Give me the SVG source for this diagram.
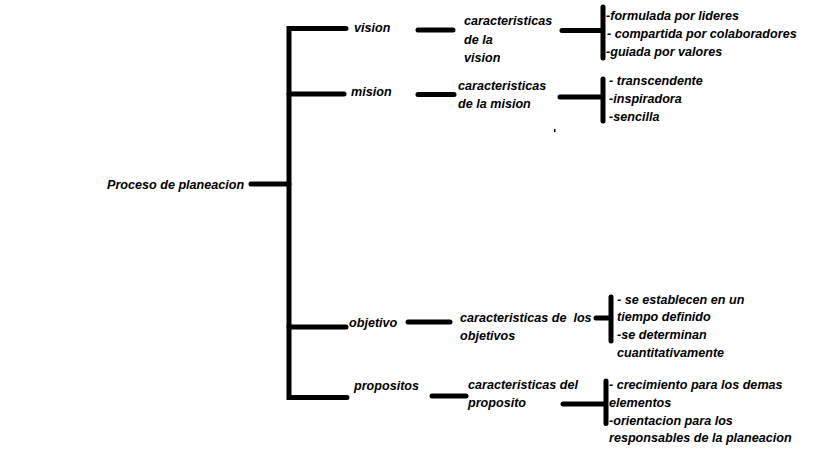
<svg xmlns="http://www.w3.org/2000/svg" width="819" height="460" viewBox="0 0 819 460">
<style>
text{font-family:"Liberation Sans",Arial,sans-serif;font-weight:bold;font-style:italic;font-size:12.6px;fill:#000}
.c{fill:none;stroke:#000;stroke-width:5;stroke-linecap:round;stroke-linejoin:miter}
</style>
<rect width="819" height="460" fill="#fff"/>
<g id="connectors">
<path class="c" d="M346,28.5 H289 V397.5 H347"/>
<path class="c" d="M251,184 H289"/>
<path class="c" d="M289,94 H344"/>
<path class="c" d="M289,327 H346"/>
<path class="c" d="M418,30 H453"/>
<path class="c" d="M562,30.5 H602"/>
<path class="c" d="M603,7 V58"/>
<path class="c" d="M418,94.5 H454"/>
<path class="c" d="M560,97 H601"/>
<path class="c" d="M603,79 V121"/>
<path class="c" d="M408,322 H450"/>
<path class="c" d="M596,318 H609"/>
<path class="c" d="M611,297 V341"/>
<path class="c" d="M432,396 H466"/>
<path class="c" d="M563,404 H604"/>
<path class="c" d="M606,381 V423.5"/>
<rect x="554" y="129" width="1.5" height="3" fill="#000"/>
</g>
<g id="root"><text x="107" y="189">Proceso de planeacion</text></g>
<g id="vision"><text x="354" y="32">vision</text></g>
<g id="vision-car"><text x="464" y="25">caracteristicas</text><text x="464" y="43.5">de la</text><text x="464" y="61.5">vision</text></g>
<g id="vision-items"><text x="606" y="19.5">-formulada por lideres</text><text x="607" y="38">- compartida por colaboradores</text><text x="606" y="56">-guiada por valores</text></g>
<g id="mision"><text x="351" y="95.5">mision</text></g>
<g id="mision-car"><text x="458" y="90">caracteristicas</text><text x="458" y="108">de la mision</text></g>
<g id="mision-items"><text x="609" y="84.5">- transcendente</text><text x="609" y="102.5">-inspiradora</text><text x="609" y="121">-sencilla</text></g>
<g id="objetivo"><text x="349" y="327">objetivo</text></g>
<g id="objetivo-car"><text x="460" y="322" xml:space="preserve">caracteristicas de  los</text><text x="460" y="339.5">objetivos</text></g>
<g id="objetivo-items"><text x="617" y="303.5">- se establecen en un</text><text x="617" y="321">tiempo definido</text><text x="617" y="338.5">-se determinan</text><text x="617" y="357">cuantitativamente</text></g>
<g id="propositos"><text x="354" y="390">propositos</text></g>
<g id="propositos-car"><text x="468" y="388.5">caracteristicas del</text><text x="468" y="406.5">proposito</text></g>
<g id="propositos-items"><text x="609" y="388.5">- crecimiento para los demas</text><text x="609" y="406.5">elementos</text><text x="609" y="424.5">-orientacion para los</text><text x="609" y="442">responsables de la planeacion</text></g>
</svg>
